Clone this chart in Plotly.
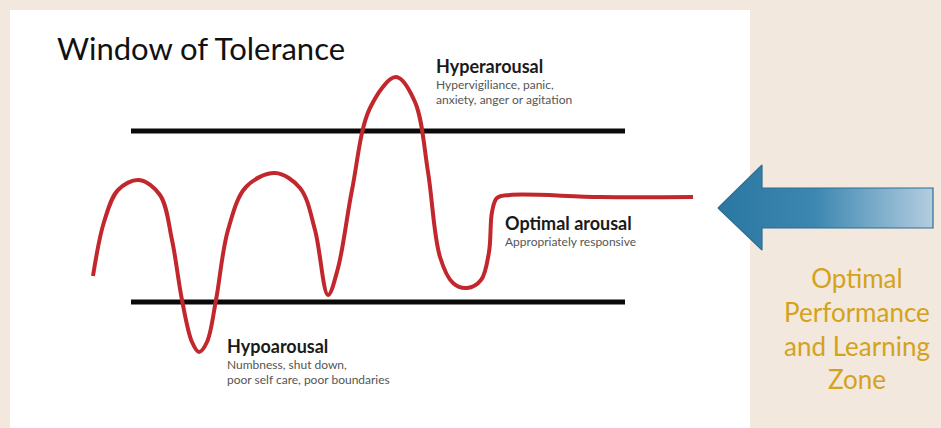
import plotly.graph_objects as go

# ---- data (diagram units: x = time, y = arousal level, screen-oriented) ----
curve_x = [93, 104, 118, 139, 160, 172, 182, 192, 199, 207, 216, 228, 246, 275, 300, 315, 328, 338, 352,
           370, 396, 415, 428, 440, 453, 467, 481, 489, 492, 497, 510, 600, 693]
curve_y = [276, 222, 190, 180, 195, 240, 300, 342, 352, 342, 300, 230, 187, 173, 188, 230, 295, 268, 190,
           108, 77, 102, 172, 257, 283, 288, 280, 252, 212, 198, 195, 197, 197]
window_x = [131, 625]
upper_limit = 131
lower_limit = 302

arrow_x = [718, 762, 762, 933, 933, 762, 762, 718]
arrow_y = [208, 165, 188, 188, 228, 228, 250, 208]

title = "Window of Tolerance"
zone_text = "Optimal<br>Performance<br>and Learning<br>Zone"

BEIGE = "#f2e8de"
RED = "#c1272d"

fig = go.Figure()

# window limits
for yv in (upper_limit, lower_limit):
    fig.add_trace(go.Scatter(x=window_x, y=[yv, yv], mode="lines",
                             line=dict(color="#0a0a0a", width=5), hoverinfo="skip", showlegend=False))

# arousal curve
fig.add_trace(go.Scatter(x=curve_x, y=curve_y, mode="lines",
                         line=dict(color=RED, width=4, shape="spline", smoothing=1.0),
                         hoverinfo="skip", showlegend=False))

# arrow
fig.add_trace(go.Scatter(x=arrow_x, y=arrow_y, mode="lines", fill="toself",
                         fillgradient=dict(type="horizontal",
                                           colorscale=[[0, "#2a77a1"], [0.45, "#3c87b1"], [1, "#b4cde0"]]),
                         line=dict(color="#2c6d92", width=1.2), hoverinfo="skip", showlegend=False))

fig.update_layout(
    width=941, height=428,
    margin=dict(l=0, r=0, t=0, b=0),
    paper_bgcolor=BEIGE, plot_bgcolor=BEIGE,
    xaxis=dict(range=[0, 941], visible=False, fixedrange=True),
    yaxis=dict(range=[428, 0], visible=False, fixedrange=True),
    shapes=[dict(type="rect", xref="x", yref="y", x0=10, x1=750, y0=10, y1=440,
                 fillcolor="white", line=dict(width=0), layer="below")],
)

FONT = "Lato, 'Open Sans', sans-serif"

def label(x, y, text, size, color, weight="normal", xanchor="left"):
    fig.add_annotation(x=x, y=y, text=text, showarrow=False, xanchor=xanchor, yanchor="middle",
                       font=dict(family=FONT, size=size, color=color, weight=weight),
                       align=xanchor if xanchor != "center" else "center")

label(55, 48, title, 31, "#111111")
label(434, 66, "Hyperarousal", 18, "#1a1a1a", weight="bold")
label(434, 84, "Hypervigiliance, panic,", 12, "#555555")
label(434, 99, "anxiety, anger or agitation", 12, "#555555")
label(503, 223, "Optimal arousal", 18, "#1a1a1a", weight="bold")
label(503, 241, "Appropriately responsive", 12, "#555555")
label(225, 346, "Hypoarousal", 18, "#1a1a1a", weight="bold")
label(225, 364, "Numbness, shut down,", 12, "#555555")
label(225, 379, "poor self care, poor boundaries", 12, "#555555")

fig.add_annotation(x=857, y=328, text=zone_text, showarrow=False, xanchor="center", yanchor="middle",
                   align="center", font=dict(family=FONT, size=26, color="#d4a21b"))

fig.write_html("out.html", config={"displayModeBar": False, "staticPlot": True},
               post_script="document.body.style.margin='0';document.body.style.background='#f2e8de';")
